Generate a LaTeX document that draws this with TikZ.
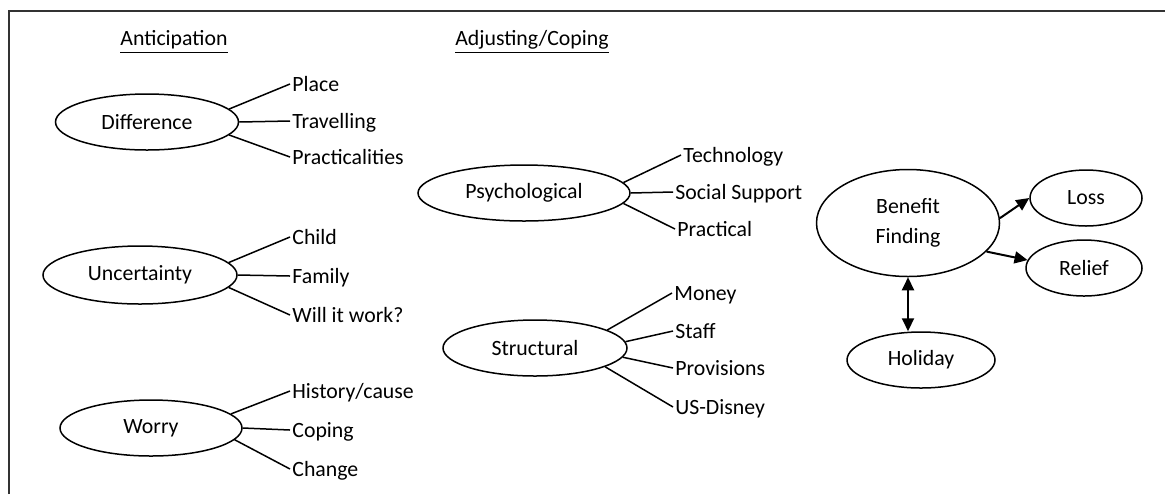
\documentclass[tikz,border=0pt]{standalone}
\usepackage{fontspec}
\setmainfont{Carlito}
\usetikzlibrary{arrows.meta,shapes.geometric}

\begin{document}
\begin{tikzpicture}[x=0.5pt,y=-0.5pt,font=\fontsize{10.9}{15}\selectfont,
ell/.style={draw,ellipse,line width=0.75pt,inner sep=0pt,minimum height=28pt},
leaf/.style={anchor=west,inner sep=1pt,text height=7pt,text depth=0pt},
branch/.style={line width=0.75pt},
link/.style={line width=1pt,-{Triangle[length=6.5pt,width=6pt]}}]
\useasboundingbox (0,0) rectangle (1165,494);
\draw[line width=0.8pt,black!80] (9,494)--(9,11)--(1165,11);
\node (ant) at (174,42) {\underline{Anticipation}};
\node (adj) at (532,42) {\underline{Adjusting/Coping}};
\node[ell,minimum width=91.5pt] (diff) at (147,122) {Difference};
\node[ell,minimum width=97pt,minimum height=29pt] (unc) at (140,275) {Uncertainty};
\node[ell,minimum width=91pt] (worry) at (151,428) {Worry};
\node[ell,minimum width=106pt] (psy) at (524,193) {Psychological};
\node[ell,minimum width=92pt] (struc) at (535,348) {Structural};
\node[ell,minimum width=91.5pt,minimum height=53.5pt,align=center] (benefit) at (908,223) {Benefit\\Finding};
\node[ell,minimum width=56pt] (loss) at (1086,198) {Loss};
\node[ell,minimum width=58pt] (relief) at (1084,268) {Relief};
\node[ell,minimum width=74pt] (holiday) at (921,360) {Holiday};
\node[leaf] (place) at (290,84) {Place};
\node[leaf] (trav) at (290,121) {Travelling};
\node[leaf] (pract) at (290,157) {Practicalities};
\node[leaf] (child) at (290,237) {Child};
\node[leaf] (fam) at (290,276) {Family};
\node[leaf] (work) at (290,315) {Will it work?};
\node[leaf] (hist) at (290,391) {History/cause};
\node[leaf] (cop) at (290,430) {Coping};
\node[leaf] (chg) at (290,469) {Change};
\node[leaf] (tech) at (681,155) {Technology};
\node[leaf] (soc) at (673,192) {Social Support};
\node[leaf] (prac) at (675,229) {Practical};
\node[leaf] (money) at (672,293) {Money};
\node[leaf] (staff) at (673,331) {Staff};
\node[leaf] (prov) at (673,368) {Provisions};
\node[leaf] (us) at (673,407) {US-Disney};
\draw[branch] (diff.9)--(place.west) (diff.0)--(trav.west) (diff.-9)--(pract.west);
\draw[branch] (unc.8)--(child.west) (unc.0)--(fam.west) (unc.-8)--(work.west);
\draw[branch] (worry.10)--(hist.west) (worry.0)--(cop.west) (worry.-8)--(chg.west);
\draw[branch] (psy.6)--(tech.west) (psy.0)--(soc.west) (psy.-6)--(prac.west);
\draw[branch] (struc.14)--(money.west) (struc.4)--(staff.west) (struc.-6)--(prov.west) (struc.-15)--(us.west);
\draw[link] (benefit.3)--(loss.west);
\draw[link] (benefit.-20)--(relief.172);
\draw[link,{Triangle[length=6.5pt,width=6pt]}-{Triangle[length=6.5pt,width=6pt]}] (benefit.south)--(benefit.south |- holiday.north);
\end{tikzpicture}
\end{document}
